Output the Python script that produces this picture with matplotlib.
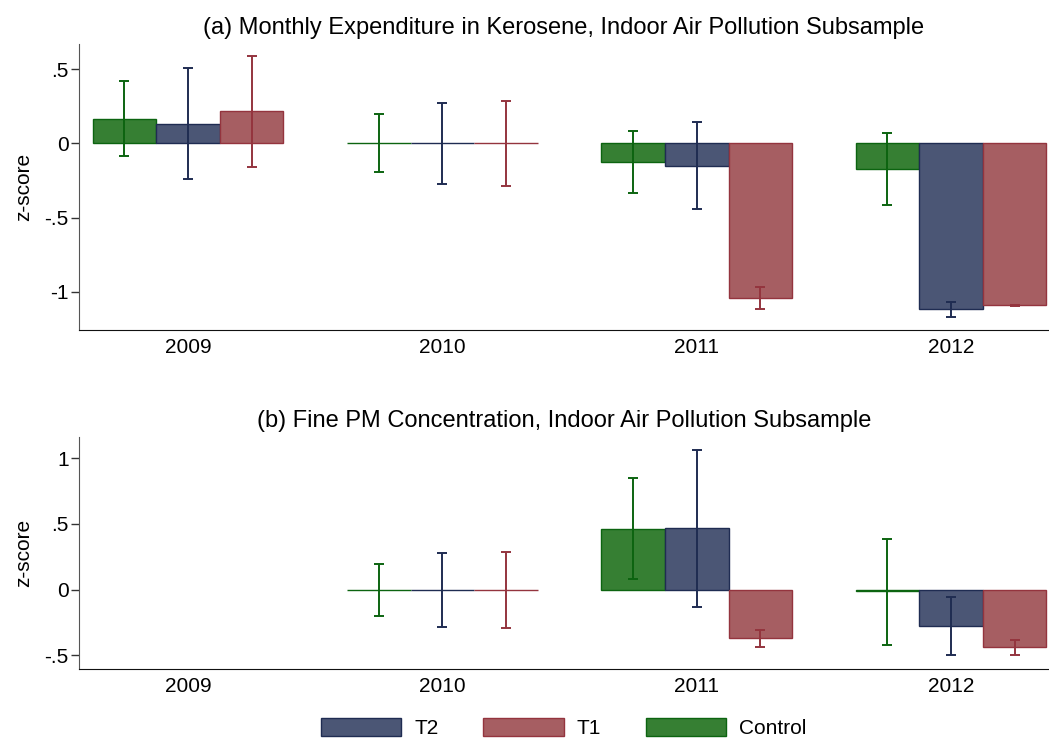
import numpy as np
import matplotlib
matplotlib.use('Agg')
import matplotlib.pyplot as plt
from matplotlib.patches import Patch
from matplotlib.ticker import FuncFormatter

plt.rcParams['font.family'] = ['Liberation Sans', 'DejaVu Sans']
plt.rcParams['font.size'] = 15

years = ['2009', '2010', '2011', '2012']
nan = np.nan

# panel (a): monthly expenditure in kerosene
ctrl_a = [0.166, 0.0, -0.128, -0.173]
ctrl_a_lo = [-0.085, -0.191, -0.337, -0.415]
ctrl_a_hi = [0.417, 0.195, 0.083, 0.069]
t2_a = [0.132, 0.0, -0.153, -1.117]
t2_a_lo = [-0.242, -0.274, -0.444, -1.167]
t2_a_hi = [0.507, 0.273, 0.141, -1.068]
t1_a = [0.215, 0.0, -1.039, -1.090]
t1_a_lo = [-0.160, -0.287, -1.113, -1.095]
t1_a_hi = [0.590, 0.287, -0.965, -1.085]

# panel (b): fine PM concentration
ctrl_b = [nan, 0.0, 0.461, -0.008]
ctrl_b_lo = [nan, -0.198, 0.078, -0.423]
ctrl_b_hi = [nan, 0.195, 0.849, 0.388]
t2_b = [nan, 0.0, 0.466, -0.279]
t2_b_lo = [nan, -0.281, -0.129, -0.497]
t2_b_hi = [nan, 0.279, 1.062, -0.058]
t1_b = [nan, 0.0, -0.370, -0.439]
t1_b_lo = [nan, -0.291, -0.436, -0.494]
t1_b_hi = [nan, 0.289, -0.304, -0.380]

green, green_e = '#367f33', '#0c6410'
navy, navy_e = '#4b5675', '#1f2c52'
red, red_e = '#a65e62', '#94343e'


def fmt(v, pos):
    s = ('%g' % v)
    return s.replace('0.', '.') if abs(v) < 1 else s


def panel(ax, series, title, ylim, yticks):
    x = np.arange(len(years)) * 4.0
    offs = [-1, 0, 1]
    for (vals, lo, hi, fc, ec), o in zip(series, offs):
        vals = np.array(vals)
        ax.bar(x + o, vals, width=1.0, color=fc, edgecolor=ec, linewidth=1.0, zorder=2)
        err = np.vstack([vals - np.array(lo), np.array(hi) - vals])
        ax.errorbar(x + o, vals, yerr=err, fmt='none', ecolor=ec, elinewidth=1.4,
                    capsize=3.5, capthick=1.4, zorder=3)
    ax.set_xlim(-1.714, 13.54)
    ax.set_ylim(*ylim)
    ax.set_yticks(yticks)
    ax.yaxis.set_major_formatter(FuncFormatter(fmt))
    ax.set_xticks(x)
    ax.set_xticklabels(years)
    ax.tick_params(axis='x', length=0, pad=6)
    ax.tick_params(axis='y', length=5.5, width=1, pad=2, color='#333333')
    ax.spines['top'].set_visible(False)
    ax.spines['right'].set_visible(False)
    ax.spines['left'].set_color('#555555')
    ax.spines['bottom'].set_color('#111111')
    ax.set_ylabel('z-score', labelpad=8)
    ax.set_title(title, fontsize=17, pad=7.5)


fig = plt.figure(figsize=(10.49, 7.38), dpi=100)
ax1 = fig.add_axes([0.0753, 0.5528, 0.9247, 0.3875])
ax2 = fig.add_axes([0.0753, 0.0935, 0.9247, 0.3144])

panel(ax1, [(ctrl_a, ctrl_a_lo, ctrl_a_hi, green, green_e),
            (t2_a, t2_a_lo, t2_a_hi, navy, navy_e),
            (t1_a, t1_a_lo, t1_a_hi, red, red_e)],
      '(a) Monthly Expenditure in Kerosene, Indoor Air Pollution Subsample',
      (-1.256, 0.668), [-1, -0.5, 0, 0.5])
panel(ax2, [(ctrl_b, ctrl_b_lo, ctrl_b_hi, green, green_e),
            (t2_b, t2_b_lo, t2_b_hi, navy, navy_e),
            (t1_b, t1_b_lo, t1_b_hi, red, red_e)],
      '(b) Fine PM Concentration, Indoor Air Pollution Subsample',
      (-0.603, 1.161), [-0.5, 0, 0.5, 1])

handles = [Patch(facecolor=navy, edgecolor=navy_e),
           Patch(facecolor=red, edgecolor=red_e),
           Patch(facecolor=green, edgecolor=green_e)]
fig.legend(handles, ['T2', 'T1', 'Control'], loc='center left',
           bbox_to_anchor=(0.306, 1 - 728 / 738), ncol=3, frameon=False,
           borderpad=0, borderaxespad=0, handlelength=3.85, handleheight=1.0,
           handletextpad=0.63, columnspacing=2.15)

fig.savefig('out.png', dpi=100)
